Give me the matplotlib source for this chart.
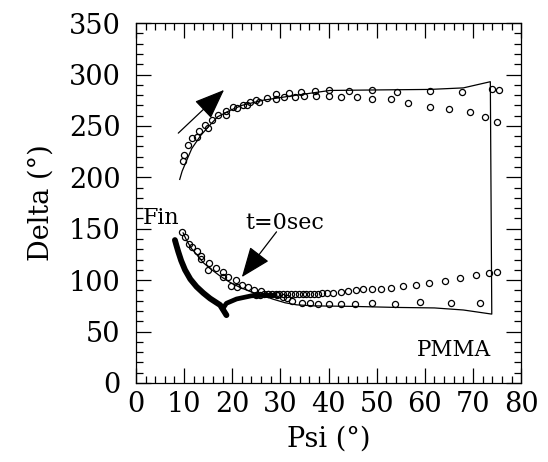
import matplotlib
matplotlib.use('Agg')
import matplotlib.pyplot as plt
from matplotlib.ticker import MultipleLocator

plt.rcParams['font.family'] = 'DejaVu Serif'

# fitted curve (solid line): lower branch, right edge, upper branch
fit_psi = [9.8, 10.5, 11.5, 12.6, 14.0, 15.5, 17.5, 19.5, 21.6, 24.0, 26.4, 28.5, 31.0, 33.4,
           37.0, 45.0, 54.0, 62.0, 68.0, 73.9,
           73.6, 68.0, 61.0, 50.0, 40.3, 32.0, 26.4, 22.0, 19.5, 17.0, 15.4, 13.5, 11.6,
           10.5, 9.6, 9.1]
fit_delta = [146, 139, 131, 125, 117, 111, 104, 98, 93, 88.5, 85, 81.5, 78, 76,
             75, 74.5, 73.5, 73, 71, 67,
             293, 287, 285.5, 285, 284.5, 279, 275, 270, 265, 259, 251, 241, 228,
             216, 206, 198]

# measured points, upper loop
up_psi = [9.7, 10.0, 10.9, 11.6, 12.6, 13.2, 14.3, 14.9, 15.9, 17.1, 18.8, 18.8, 20.1, 20.9,
          22.2, 23.0, 23.7, 24.9, 25.6, 27.2, 29.1, 29.1, 30.8, 31.7, 33.0, 34.2, 35.0,
          37.2, 37.4, 40.1, 40.0, 42.6, 44.2, 45.9, 49.0, 49.0, 52.9, 54.2, 56.6, 61.0,
          61.1, 65.0, 67.7, 69.4, 72.5, 74.0, 75.3, 74.9]
up_delta = [216, 222, 231, 238.5, 239.5, 245, 251, 247.6, 256, 260.5, 264.5, 260.5, 268, 267,
            270, 270, 273, 275, 273.5, 277.4, 280.6, 276.4, 278.3, 281.6, 278.3, 283.2, 279.3,
            283.8, 279, 285.4, 279.3, 278.3, 283.6, 278.3, 284.8, 276, 276, 283, 272.5, 284,
            268.5, 266.7, 283, 263.5, 258.3, 286.1, 284.8, 253.7]

# measured points, lower loop
dn_psi = [9.5, 10.2, 11.1, 11.6, 12.6, 13.5, 13.5, 15.2, 14.9, 16.6, 18.0, 18.0, 19.2, 19.7,
          20.8, 20.9, 22.0, 23.3, 24.5, 26.0,
          27.5, 29.2, 30.5, 31.3, 32.5, 34.4, 36.2, 37.9, 40.1, 42.5, 45.6, 49.1, 53.8,
          59.0, 65.4, 71.5,
          25.0, 25.8, 26.6, 27.4, 28.2, 29.0, 29.8, 30.6, 31.4, 32.2, 33.0, 33.8, 34.6,
          35.4, 36.2, 37.0, 37.8, 38.6, 39.6, 41.0, 42.6, 44.1, 45.7, 47.2, 49.1, 50.8,
          53.0, 55.4, 58.1, 60.9, 64.1, 67.3, 70.6, 73.4, 74.9]
dn_delta = [147, 141.6, 135, 132, 128.3, 123.5, 120.8, 117, 110, 111.5, 108.2, 103.3, 103.3, 94.3,
            100, 93, 95.3, 93, 90.4, 89.4,
            87, 85.5, 83.5, 82.2, 80, 78, 77.4, 76.5, 76.5, 77.1, 76.5, 78, 76.8,
            79, 77.4, 77.4,
            85.5, 86, 86.3, 86.5, 86.5, 86.6, 86.6, 86.6, 86.6, 86.6, 86.6, 86.6, 86.6,
            86.7, 86.8, 86.9, 87, 87.1, 87.2, 87.8, 88.5, 89.1, 90, 91, 91.4, 91.7,
            92.7, 94.3, 95.6, 97.2, 99.5, 102, 104.6, 107.2, 108.2]

# dense end-of-run points (thick trace)
end_psi = [8.1, 8.4, 8.8, 9.4, 10.2, 11.3, 12.6, 14.0, 15.4, 17.5, 18.8]
end_delta = [139, 134, 127.6, 119, 110, 101, 93.6, 87.5, 82.2, 75.8, 66]
hook_psi = [18.1, 18.3, 18.8, 20.9, 24.0, 28.9]
hook_delta = [71, 74, 77.5, 81.7, 84.8, 85.5]

fig = plt.figure(figsize=(5.48, 4.62), dpi=100)
ax = fig.add_axes([0.248, 0.171, 0.703, 0.779])

ax.plot(fit_psi, fit_delta, color='black', lw=0.9)
ax.plot(up_psi, up_delta, 'o', mfc='none', mec='black', ms=4.4, mew=0.9)
ax.plot(dn_psi, dn_delta, 'o', mfc='none', mec='black', ms=4.4, mew=0.9)
ax.plot(end_psi, end_delta, color='black', lw=4.2, solid_capstyle='round')
ax.plot(hook_psi, hook_delta, color='black', lw=3.4, solid_capstyle='round')

head = '-|>,head_length=1.9,head_width=0.75'
ax.annotate('', xy=(18.3, 285), xytext=(8.8, 243),
            arrowprops=dict(arrowstyle=head, color='black', lw=0.9, shrinkA=0, shrinkB=0))
ax.annotate('', xy=(22, 103), xytext=(29.2, 147),
            arrowprops=dict(arrowstyle=head, color='black', lw=0.9, shrinkA=0, shrinkB=0))
ax.text(31, 156, 't=0sec', fontsize=16, ha='center', va='center')
ax.text(5.3, 160, 'Fin', fontsize=16, ha='center', va='center')
ax.text(66, 32, 'PMMA', fontsize=15.5, ha='center', va='center')

ax.set_xlim(0, 80)
ax.set_ylim(0, 350)
ax.xaxis.set_major_locator(MultipleLocator(10))
ax.xaxis.set_minor_locator(MultipleLocator(2))
ax.yaxis.set_major_locator(MultipleLocator(50))
ax.yaxis.set_minor_locator(MultipleLocator(10))
ax.tick_params(which='both', direction='in', top=True, right=True, width=0.9)
ax.tick_params(which='major', length=11, labelsize=19.5)
ax.tick_params(axis='x', which='major', pad=6)
ax.tick_params(axis='y', which='major', pad=11)
ax.tick_params(which='minor', length=5)
for s in ax.spines.values():
    s.set_linewidth(0.9)

ax.set_xlabel('Psi (°)', fontsize=19.5, labelpad=5)
ax.set_ylabel('Delta (°)', fontsize=19.5, labelpad=10)

fig.savefig('out.png', dpi=100)
